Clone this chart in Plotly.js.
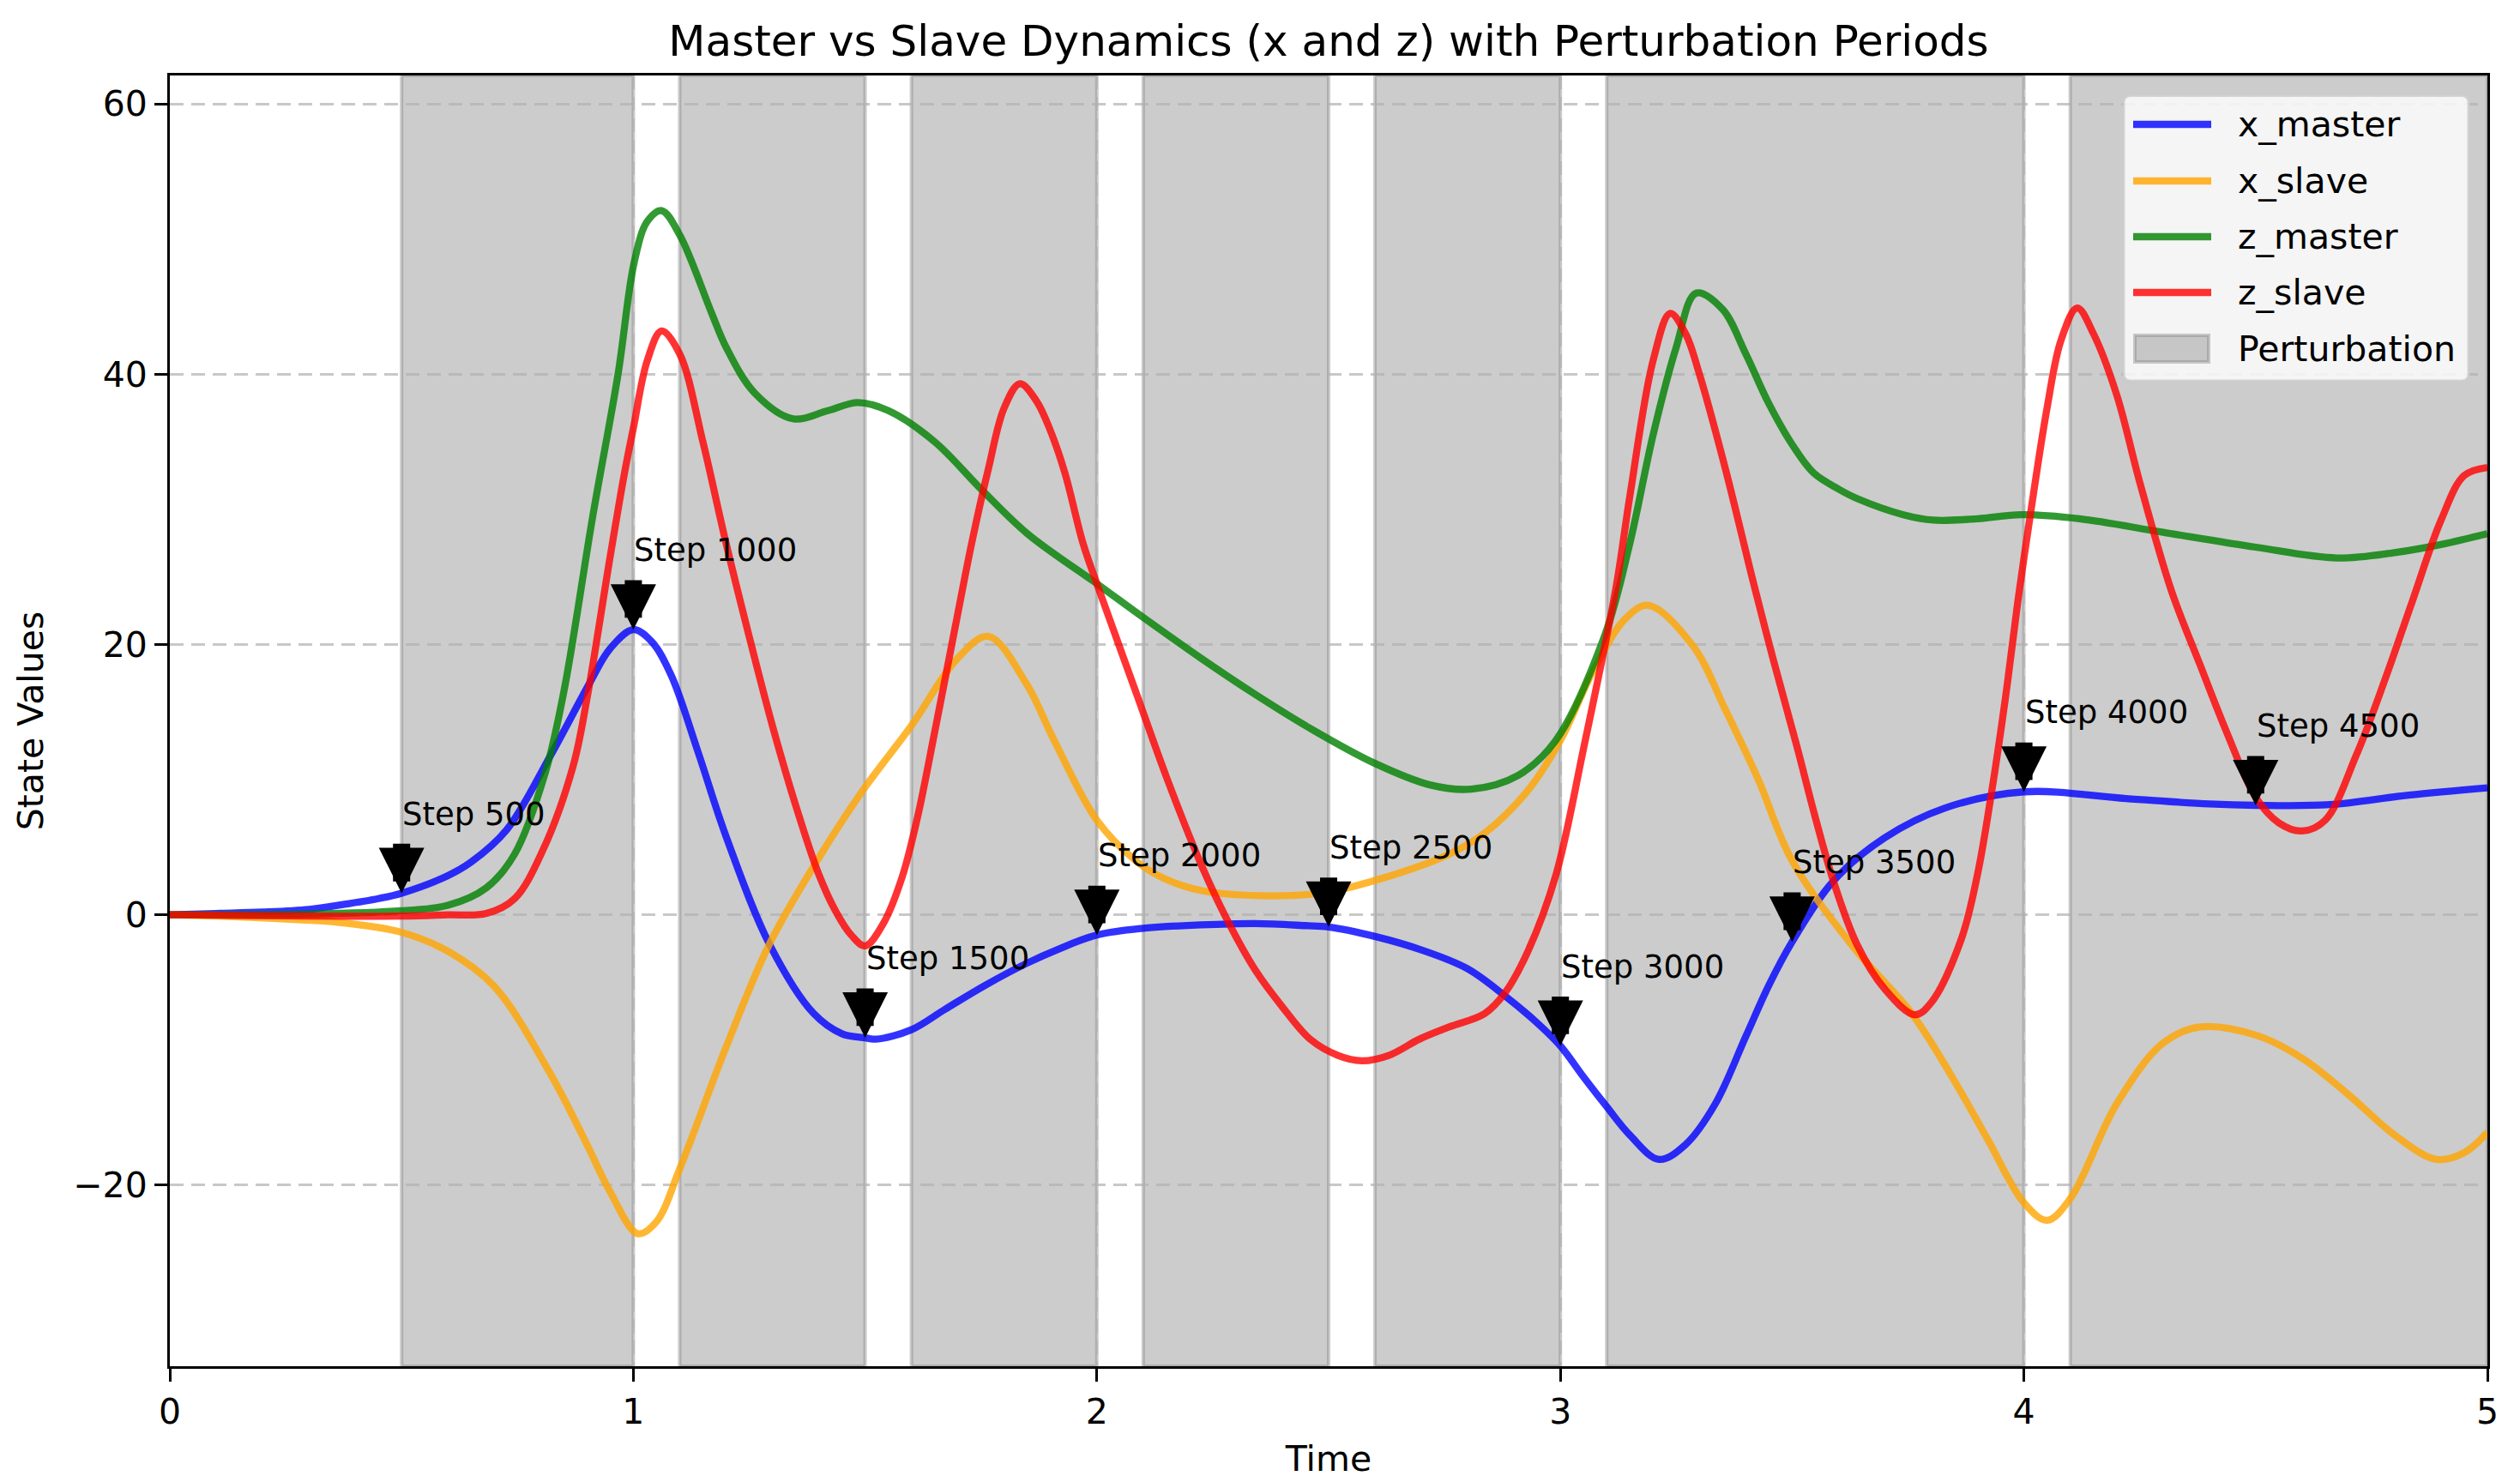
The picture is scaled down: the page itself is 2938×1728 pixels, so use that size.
<!DOCTYPE html>
<html>
<head>
<meta charset="utf-8">
<script src="https://cdn.plot.ly/plotly-3.0.1.min.js"></script>
<style>html,body{margin:0;padding:0;background:#fff}</style>
</head>
<body>
<div id="chart" style="width:2938px;height:1728px"></div>
<script>
// ---------- data ----------
const t_xmaster = [0,0.1,0.2,0.3,0.374,0.45,0.5,0.6,0.65,0.727,0.82,0.905,0.95,1.0,1.04,1.082,1.14,1.2,1.294,1.389,1.45,1.5,1.524,1.6,1.672,1.76,1.848,1.92,2.0,2.1,2.224,2.342,2.45,2.5,2.6,2.7,2.8,2.884,2.95,3.0,3.05,3.1,3.15,3.213,3.27,3.334,3.4,3.45,3.5,3.589,3.7,3.83,4.0,4.22,4.4,4.5,4.66,4.83,5.0];
const x_master = [0,0.1,0.2,0.4,0.76,1.2,1.6,2.9,3.9,6.3,11.7,17.1,19.7,21.1,20.2,17.7,12.0,5.8,-2.2,-7.3,-8.8,-9.1,-9.2,-8.5,-7.0,-5.2,-3.6,-2.5,-1.5,-1.0,-0.75,-0.65,-0.8,-0.9,-1.6,-2.6,-4.0,-6.1,-8.0,-9.7,-12.0,-14.2,-16.3,-18.1,-17.0,-14.0,-9.0,-5.2,-2.0,2.5,5.7,7.9,9.1,8.6,8.2,8.1,8.15,8.86,9.4];

const t_xslave = [0,0.15,0.3,0.374,0.5,0.6,0.7,0.82,0.9,0.95,1.01,1.05,1.1,1.2,1.293,1.4,1.495,1.6,1.7,1.766,1.848,1.908,2.0,2.084,2.144,2.224,2.377,2.495,2.613,2.755,2.837,2.93,3.0,3.07,3.14,3.19,3.286,3.357,3.427,3.5,3.63,3.758,3.84,3.92,4.0,4.05,4.1,4.2,4.3,4.38,4.5,4.6,4.7,4.8,4.89,4.95,5.0];
const x_slave = [0,-0.15,-0.4,-0.6,-1.3,-2.7,-5.3,-11.7,-17.0,-20.5,-23.6,-22.7,-18.8,-9.8,-2.2,4.2,9.2,14.0,19.0,20.6,17.1,12.9,7.0,4.0,2.7,1.8,1.4,1.66,2.67,4.4,6.05,9.2,12.9,18.0,21.9,22.9,19.9,15.1,10.0,4.0,-2.3,-7.3,-11.7,-16.5,-21.3,-22.6,-21.0,-14.0,-9.5,-8.3,-8.9,-10.6,-13.3,-16.3,-18.1,-17.6,-16.1];

const t_zmaster = [0,0.3,0.5,0.6,0.683,0.744,0.81,0.85,0.913,0.967,1.002,1.03,1.061,1.1,1.168,1.2,1.262,1.344,1.42,1.484,1.55,1.65,1.75,1.85,2.0,2.1,2.224,2.342,2.46,2.6,2.72,2.808,2.908,2.99,3.097,3.15,3.2,3.25,3.293,3.35,3.4,3.45,3.5,3.546,3.6,3.64,3.74,3.805,3.9,3.994,4.12,4.3,4.5,4.675,4.8,4.9,5.0];
const z_master = [0,0.05,0.3,0.7,2.0,4.5,10.5,16.5,29.6,40.0,48.3,51.3,52.1,50.3,44.6,42.0,38.6,36.7,37.3,37.9,37.3,35.0,31.5,28.2,24.5,22.0,19.0,16.3,13.8,11.2,9.6,9.3,10.3,12.9,20.8,27.5,35.5,42.0,46.0,44.8,41.5,37.8,34.8,32.7,31.5,30.8,29.6,29.2,29.3,29.6,29.3,28.3,27.2,26.4,26.8,27.4,28.2];

const t_zslave = [0,0.5,0.6,0.683,0.744,0.805,0.87,0.9,0.95,0.981,1.0,1.03,1.061,1.1,1.15,1.2,1.258,1.3,1.353,1.4,1.436,1.47,1.5,1.54,1.58,1.613,1.65,1.695,1.73,1.766,1.8,1.834,1.87,1.9,1.931,1.97,2.0,2.084,2.15,2.224,2.28,2.342,2.4,2.46,2.52,2.572,2.63,2.696,2.76,2.837,2.88,2.93,2.99,3.05,3.12,3.15,3.2,3.237,3.27,3.3,3.356,3.417,3.46,3.51,3.55,3.589,3.64,3.7,3.765,3.8,3.865,3.9,3.93,3.96,3.987,4.02,4.05,4.08,4.115,4.15,4.2,4.25,4.318,4.38,4.44,4.5,4.55,4.6,4.65,4.717,4.78,4.838,4.9,4.95,5.0];
const z_slave = [0,-0.1,0.0,0.1,1.2,4.8,11.0,16.0,26.5,32.7,36.0,41.0,43.2,41.5,35.0,27.5,19.5,14.0,7.8,3.0,0.3,-1.5,-2.3,-0.6,2.8,7.2,13.5,21.4,27.5,33.0,37.5,39.3,38.0,35.8,32.7,27.5,24.5,16.5,10.2,3.8,-0.3,-4.1,-6.8,-9.2,-10.4,-10.8,-10.4,-9.2,-8.3,-7.3,-5.8,-2.7,2.9,12.3,24.2,31.0,41.0,44.5,43.0,40.0,33.0,24.5,18.8,12.5,7.2,2.5,-2.2,-5.5,-7.4,-6.5,-1.8,3.0,9.0,16.0,23.2,31.0,37.5,42.5,44.9,43.0,38.5,32.0,24.0,18.5,13.3,8.7,6.8,6.2,7.0,11.8,17.5,23.2,29.2,32.5,33.1];

const perturb_start = [0.5,1.1,1.6,2.1,2.6,3.1,4.1];
const perturb_end   = [1.0,1.5,2.0,2.5,3.0,4.0,5.0];

const steps = [500,1000,1500,2000,2500,3000,3500,4000,4500];
const step_labels = steps.map(s => 'Step ' + s);
const dt = 0.001;

const series_names = ['x_master','x_slave','z_master','z_slave'];
const series_colors = ['rgba(0,0,255,0.8)','rgba(255,165,0,0.8)','rgba(0,128,0,0.8)','rgba(255,0,0,0.8)'];

// ---------- layout helpers ----------
const W = 2938, H = 1728;
const L = 198, R = 2900, T = 88, B = 1593;
const px2x = p => (p - L) / (R - L);
const py2y = p => (B - p) / (B - T);
const FONT = 'DejaVu Sans, Verdana, sans-serif';

const xs = [t_xmaster, t_xslave, t_zmaster, t_zslave];
const ys = [x_master, x_slave, z_master, z_slave];
const traces = series_names.map((n, i) => ({
  type: 'scatter', mode: 'lines', name: n, x: xs[i], y: ys[i],
  line: {color: series_colors[i], width: 8.3, shape: 'spline', smoothing: 1.0},
  showlegend: false, hoverinfo: 'skip'
}));

const shapes = [];
perturb_start.forEach((s, i) => {
  shapes.push({type: 'rect', xref: 'x', yref: 'paper', x0: s, x1: perturb_end[i], y0: 0, y1: 1,
    fillcolor: 'rgba(128,128,128,0.4)', line: {color: 'rgba(128,128,128,0.4)', width: 4}, layer: 'below'});
});

// custom legend
const lx0 = 2476, lx1 = 2878, ly0 = 111.5, ly1 = 444, rr = 8;
const X = px2x, Y = py2y;
const legPath = `M${X(lx0+rr)},${Y(ly0)} L${X(lx1-rr)},${Y(ly0)} Q${X(lx1)},${Y(ly0)} ${X(lx1)},${Y(ly0+rr)} L${X(lx1)},${Y(ly1-rr)} Q${X(lx1)},${Y(ly1)} ${X(lx1-rr)},${Y(ly1)} L${X(lx0+rr)},${Y(ly1)} Q${X(lx0)},${Y(ly1)} ${X(lx0)},${Y(ly1-rr)} L${X(lx0)},${Y(ly0+rr)} Q${X(lx0)},${Y(ly0)} ${X(lx0+rr)},${Y(ly0)} Z`;
shapes.push({type: 'path', xref: 'paper', yref: 'paper', path: legPath,
  fillcolor: 'rgba(255,255,255,0.8)', line: {color: 'rgba(204,204,204,0.8)', width: 3}, layer: 'above'});
const rowY = [145, 211, 276, 341, 406.6];
series_names.forEach((n, i) => {
  shapes.push({type: 'line', xref: 'paper', yref: 'paper', x0: X(2487), x1: X(2578), y0: Y(rowY[i]), y1: Y(rowY[i]),
    line: {color: series_colors[i], width: 8.3}, layer: 'above'});
});
shapes.push({type: 'rect', xref: 'paper', yref: 'paper', x0: X(2489), x1: X(2575), y0: Y(422), y1: Y(391),
  fillcolor: 'rgba(128,128,128,0.4)', line: {color: 'rgba(128,128,128,0.4)', width: 4}, layer: 'above'});

const annotations = [];
const legendLabels = series_names.concat(['Perturbation']);
legendLabels.forEach((n, i) => {
  annotations.push({xref: 'paper', yref: 'paper', x: X(2607), y: Y(rowY[i]), xanchor: 'left', yanchor: 'middle',
    text: n, showarrow: false, font: {family: FONT, size: 41, color: '#000'}});
});

// step annotations on x_master
steps.forEach((s, i) => {
  const t = s * dt;
  const idx = t_xmaster.findIndex(v => Math.abs(v - t) < 1e-9);
  const v = x_master[idx];
  annotations.push({xref: 'x', yref: 'y', axref: 'x', ayref: 'y', x: t, y: v, ax: t, ay: v + 3.75,
    text: '', showarrow: true, arrowhead: 2, arrowwidth: 20, arrowsize: 0.53, arrowcolor: '#000', standoff: 0});
  annotations.push({xref: 'x', yref: 'y', x: t, y: v + 5, xanchor: 'left', yanchor: 'bottom', yshift: -10, xshift: -1,
    text: step_labels[i], showarrow: false, font: {family: FONT, size: 37, color: '#000'}});
});

const axisCommon = {
  showline: true, linecolor: '#000', linewidth: 3, mirror: true,
  ticks: 'outside', ticklen: 15, tickwidth: 3, tickcolor: '#000',
  showgrid: true, gridcolor: 'rgba(176,176,176,0.7)', gridwidth: 3, griddash: '16px,9px',
  zeroline: false, tickfont: {family: FONT, size: 41, color: '#000'}
};

const layout = {
  width: W, height: H,
  margin: {l: L, r: W - R, t: T, b: H - B, autoexpand: false},
  paper_bgcolor: '#fff', plot_bgcolor: '#fff',
  title: {text: 'Master vs Slave Dynamics (x and z) with Perturbation Periods',
    font: {family: FONT, size: 50, color: '#000'}, x: 0.5, xref: 'paper', y: 1 - 47 / H, yref: 'container', yanchor: 'middle'},
  xaxis: Object.assign({}, axisCommon, {range: [0, 5], tickvals: [0,1,2,3,4,5], ticktext: ['0','1','2','3','4','5'],
    title: {text: 'Time', font: {family: FONT, size: 41, color: '#000'}, standoff: 18}}),
  yaxis: Object.assign({}, axisCommon, {range: [-33.4, 62.1], tickvals: [-20,0,20,40,60],
    title: {text: 'State Values', font: {family: FONT, size: 41, color: '#000'}, standoff: 22}}),
  shapes: shapes,
  annotations: annotations,
  showlegend: false
};

Plotly.newPlot('chart', traces, layout, {displayModeBar: false, staticPlot: true});
</script>
</body>
</html>
